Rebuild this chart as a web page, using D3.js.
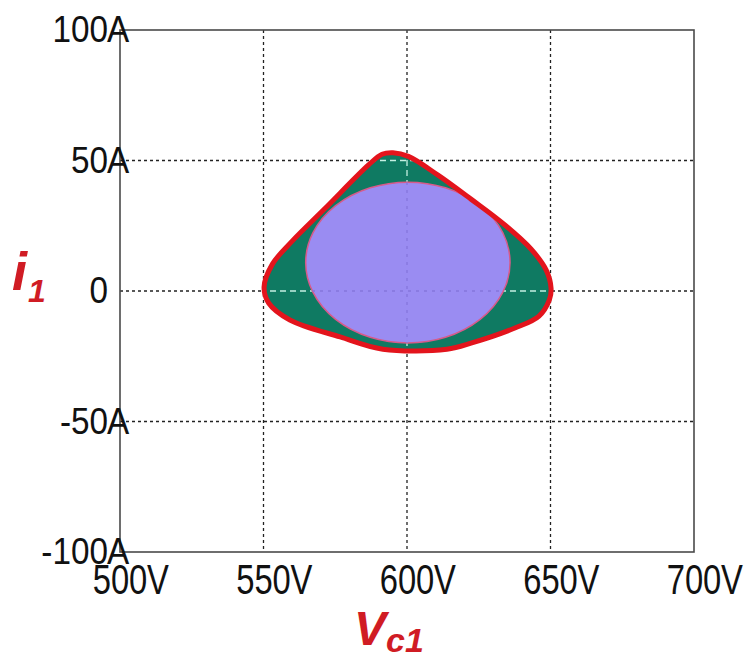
<!DOCTYPE html>
<html>
<head>
<meta charset="utf-8">
<script src="https://cdn.jsdelivr.net/npm/d3@7"></script>
<style>
  body { margin: 0; background: #fff; }
  svg { display: block; }
</style>
</head>
<body>
<div id="visualization"></div>
<script>
// voltage ticks (V) and current ticks (A)
var xTicks = [500, 550, 600, 650, 700];
var yTicks = [100, 50, 0, -50, -100];

// outer trajectory boundary (Vc1 in V, i1 in A)
var outerV = [595.1, 600.5, 610.8, 622.3, 634.1, 643.2, 648.5, 650.2, 649.6, 646.0, 637.6, 622.6, 613.9, 591.6, 576.7, 559.2, 551.8, 550.2, 553.1, 559.9, 571.4, 586.6, 591.3];
var outerI = [53.0, 51.6, 44.4, 35.2, 25.3, 16.1, 8.0, 1.0, -3.4, -9.6, -14.2, -19.9, -22.3, -22.3, -17.6, -11.1, -4.6, 1.5, 10.3, 19.0, 31.6, 48.3, 52.4];

// inner region: centre and half-widths
var innerCentre = [600.3, 10.9];
var innerRadius = [35.6, 30.8];

var w = 744;
var h = 659;
var div = 'visualization';

var svg = d3.select('#' + div).append("svg")
    .attr("width", w)
    .attr("height", h);

var x = d3.scaleLinear().domain([500, 700]).range([120, 694]);
var y = d3.scaleLinear().domain([-100, 100]).range([552, 30]);

var outerPts = outerV.map(function(v, i) { return [v, outerI[i]]; });

var outerLine = d3.line()
    .x(function(d) { return x(d[0]); })
    .y(function(d) { return y(d[1]); })
    .curve(d3.curveCatmullRomClosed.alpha(0.5));

var defs = svg.append("defs");
defs.append("clipPath").attr("id", "clipOuter")
    .append("path").attr("d", outerLine(outerPts));
defs.append("clipPath").attr("id", "clipInner")
    .append("ellipse")
    .attr("cx", x(innerCentre[0]))
    .attr("cy", y(innerCentre[1]))
    .attr("rx", x(innerCentre[0] + innerRadius[0]) - x(innerCentre[0]))
    .attr("ry", y(innerCentre[1]) - y(innerCentre[1] + innerRadius[1]));

function drawGrid(g, colour, dash) {
    g.selectAll("line.gx")
        .data(xTicks.slice(1, -1))
        .enter().append("line")
        .attr("class", "gx")
        .attr("x1", function(d) { return x(d); })
        .attr("x2", function(d) { return x(d); })
        .attr("y1", y(100))
        .attr("y2", y(-100))
        .style("stroke", colour)
        .style("stroke-width", 1.3)
        .style("stroke-dasharray", dash);
    g.selectAll("line.gy")
        .data(yTicks.slice(1, -1))
        .enter().append("line")
        .attr("class", "gy")
        .attr("x1", x(500))
        .attr("x2", x(700))
        .attr("y1", function(d) { return y(d); })
        .attr("y2", function(d) { return y(d); })
        .style("stroke", colour)
        .style("stroke-width", 1.3)
        .style("stroke-dasharray", dash);
}

// dotted grid
drawGrid(svg.append("g"), "#222", "3,3");

// outer region
svg.append("path")
    .attr("d", outerLine(outerPts))
    .style("fill", "#0f7a62")
    .style("stroke", "none");

drawGrid(svg.append("g").attr("clip-path", "url(#clipOuter)"), "#c4f0e2", "6,4");

// inner region
svg.append("ellipse")
    .attr("cx", x(innerCentre[0]))
    .attr("cy", y(innerCentre[1]))
    .attr("rx", x(innerCentre[0] + innerRadius[0]) - x(innerCentre[0]))
    .attr("ry", y(innerCentre[1]) - y(innerCentre[1] + innerRadius[1]))
    .style("fill", "#9a8cf2")
    .style("stroke", "#d85a8a")
    .style("stroke-width", 1.5);

drawGrid(svg.append("g").attr("clip-path", "url(#clipInner)"), "#8576dc", "3,5");

// red boundary
svg.append("path")
    .attr("d", outerLine(outerPts))
    .style("fill", "none")
    .style("stroke", "#e3141c")
    .style("stroke-width", 5)
    .style("stroke-linejoin", "round");

// frame
svg.append("rect")
    .attr("x", x(500))
    .attr("y", y(100))
    .attr("width", x(700) - x(500))
    .attr("height", y(-100) - y(100))
    .style("fill", "none")
    .style("stroke", "#4a4a4a")
    .style("stroke-width", 1.6);

// y tick labels: number then unit
var yLab = svg.append("g")
    .style("font-family", "'Liberation Sans', Arial, sans-serif")
    .style("font-size", "37px")
    .style("fill", "#111");
yLab.selectAll("text.num")
    .data(yTicks)
    .enter().append("text")
    .attr("class", "num")
    .attr("transform", function(d) { return "translate(108," + (y(d) + 12) + ") scale(0.9,1)"; })
    .style("text-anchor", "end")
    .text(function(d) { return d; });
yLab.selectAll("text.unit")
    .data(yTicks.filter(function(d) { return d !== 0; }))
    .enter().append("text")
    .attr("class", "unit")
    .attr("transform", function(d) { return "translate(107," + (y(d) + 12) + ") scale(0.9,1)"; })
    .text("A");

// x tick labels
var xLab = svg.append("g")
    .style("font-family", "'Liberation Sans', Arial, sans-serif")
    .style("font-size", "42px")
    .style("fill", "#111");
xLab.selectAll("text.num")
    .data(xTicks)
    .enter().append("text")
    .attr("class", "num")
    .attr("transform", function(d) { return "translate(" + x(d) + ",594) scale(0.78,1)"; })
    .style("text-anchor", "middle")
    .text(function(d) { return d; });
xLab.selectAll("text.unit")
    .data(xTicks)
    .enter().append("text")
    .attr("class", "unit")
    .attr("transform", function(d) { return "translate(" + (x(d) + 27) + ",594) scale(0.78,1)"; })
    .text("V");

// axis titles
var yTitle = svg.append("text")
    .attr("x", 12)
    .attr("y", 290)
    .style("font-family", "'Liberation Sans', Arial, sans-serif")
    .style("font-weight", "bold")
    .style("font-style", "italic")
    .style("font-size", "54px")
    .style("fill", "#d01c24");
yTitle.append("tspan").text("i");
yTitle.append("tspan")
    .attr("dx", 1)
    .attr("dy", 12)
    .style("font-size", "32px")
    .text("1");

var xTitle = svg.append("text")
    .attr("x", 354)
    .attr("y", 645)
    .style("font-family", "'Liberation Sans', Arial, sans-serif")
    .style("font-weight", "bold")
    .style("font-style", "italic")
    .style("font-size", "48px")
    .style("fill", "#d01c24");
xTitle.append("tspan").text("V");
xTitle.append("tspan")
    .attr("dy", 7)
    .style("font-size", "34px")
    .text("c1");
</script>
</body>
</html>
